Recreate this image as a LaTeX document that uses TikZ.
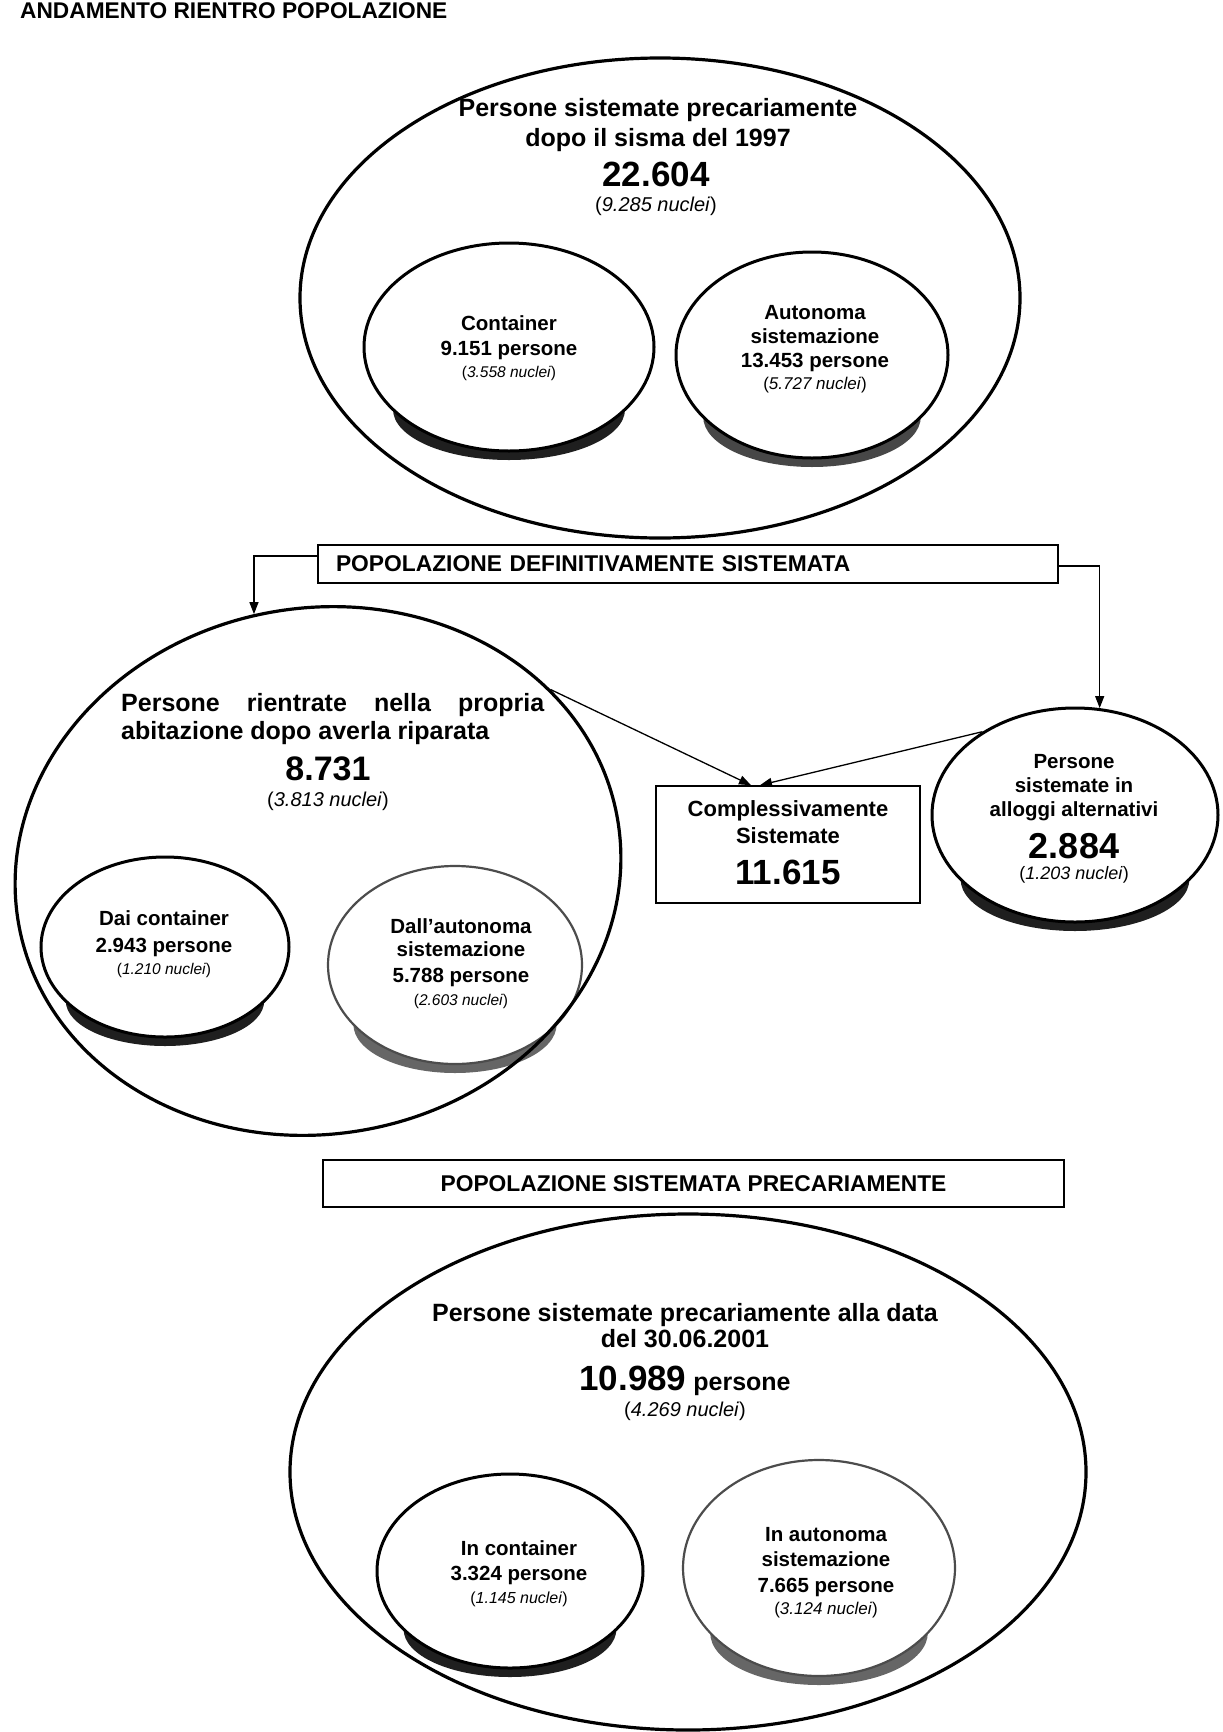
\documentclass[tikz,border=0pt]{standalone}
\usepackage{fontspec}
\setmainfont{Liberation Sans}
\usetikzlibrary{shapes.geometric,arrows.meta,calc}
\newcommand\fsz[1]{\fontsize{#1}{#1}\selectfont}
\newcommand\nuc[1]{\mdseries(\textit{#1 nuclei})}
% name, cx, cy, rx, ry, shadow colour, outline style
\newcommand\disc[7]{%
  \fill[#6] (#2,{#3+0.6*#5}) ellipse [x radius={0.8*#4pt}, y radius={0.4*#5pt+9pt}];
  \node[discell,#7, minimum width={2*#4pt}, minimum height={2*#5pt}] (#1) at (#2,#3) {};
}
\begin{document}
\begin{tikzpicture}[x=1pt,y=-1pt,
  bigell/.style={draw, ellipse, inner sep=0pt, line width=3.2pt},
  discell/.style={draw, fill=white, ellipse, inner sep=0pt, line width=3pt},
  softline/.style={draw=black!70, line width=2.2pt},
  lbl/.style={anchor=base, inner sep=0pt, font=\bfseries\fsz{25}},
  inlbl/.style={anchor=base, inner sep=0pt, font=\bfseries\fsz{20.5}},
  boxst/.style={draw, line width=1.6pt, inner sep=0pt, font=\bfseries\fsz{22.8}},
  conn/.style={line width=1.3pt, -{Triangle[length=12pt,width=9pt]}}
]
\useasboundingbox (0,0) rectangle (1223,1732);
\fill[white] (0,0) rectangle (1223,1732);

% title
\node[anchor=base west, inner sep=0pt, font=\bfseries\fsz{22.7}] (title) at (20,18) {ANDAMENTO RIENTRO POPOLAZIONE};

% ---------- top group ----------
\disc{E1a}{509}{347}{145}{104}{black!88}{}
\disc{E1b}{812}{355}{136}{103}{black!72}{}
\node[bigell, minimum width=720pt, minimum height=480pt] (E1) at (660,298) {};

\node[lbl] (t1a) at (658,116) {Persone sistemate precariamente};
\node[lbl] (t1b) at (658,146) {dopo il sisma del 1997};
\node[lbl, font=\bfseries\fsz{35}] (t1c) at (656,186) {22.604};
\node[lbl, font=\fsz{20}] (t1d) at (656,211) {\nuc{9.285}};

\node[inlbl] (t1e) at (509,330) {Container};
\node[inlbl] (t1f) at (509,355) {9.151 persone};
\node[inlbl, font=\fsz{15.5}] (t1g) at (509,377) {\nuc{3.558}};

\node[inlbl] (t1h) at (815,319) {Autonoma};
\node[inlbl] (t1i) at (815,343) {sistemazione};
\node[inlbl] (t1j) at (815,367) {13.453 persone};
\node[inlbl, font=\fsz{17}] (t1k) at (815,389) {\nuc{5.727}};

% ---------- box 1 ----------
\node[boxst, minimum width=740pt, minimum height=38pt, text width=704pt, align=left, inner xsep=18pt] (B1) at (688,564) {POPOLAZIONE DEFINITIVAMENTE SISTEMATA};

% ---------- middle group ----------
\disc{E2a}{165}{947}{124}{90}{black!88}{}
\disc{E2b}{455}{965}{127}{99}{black!60}{softline}
\node[bigell, rotate=10, minimum width=608pt, minimum height=526pt] (E2) at (318,871) {};

\node[lbl, anchor=base west] (t2a) at (121,711) {\makebox[423pt][s]{Persone rientrate nella propria}};
\node[lbl, anchor=base west] (t2b) at (121,739) {abitazione dopo averla riparata};
\node[lbl, font=\bfseries\fsz{34}] (t2c) at (328,780) {8.731};
\node[lbl, font=\fsz{20}] (t2d) at (328,806) {\nuc{3.813}};

\node[inlbl] (t2e) at (164,925) {Dai container};
\node[inlbl] (t2f) at (164,952) {2.943 persone};
\node[inlbl, font=\fsz{15.5}] (t2g) at (164,974) {\nuc{1.210}};

\node[inlbl] (t2h) at (461,933) {Dall’autonoma};
\node[inlbl] (t2i) at (461,956) {sistemazione};
\node[inlbl] (t2j) at (461,982) {5.788 persone};
\node[inlbl, font=\fsz{15.5}] (t2k) at (461,1005) {\nuc{2.603}};

\node[boxst, minimum width=264pt, minimum height=117pt] (C) at (788,844.5) {};
\node[lbl, font=\bfseries\fsz{22}] (tc1) at (788,816) {Complessivamente};
\node[lbl, font=\bfseries\fsz{22}] (tc2) at (788,843) {Sistemate};
\node[lbl, font=\bfseries\fsz{35}] (tc3) at (788,884) {11.615};

\disc{E3}{1075}{815}{143}{107}{black!88}{}
\node[inlbl] (t3a) at (1074,768) {Persone};
\node[inlbl] (t3b) at (1074,792) {sistemate in};
\node[inlbl] (t3c) at (1074,816) {alloggi alternativi};
\node[inlbl, font=\bfseries\fsz{36}] (t3d) at (1074,858) {2.884};
\node[inlbl, font=\fsz{18}] (t3e) at (1074,879) {\nuc{1.203}};

% connectors
\draw[conn] ([yshift=8pt]B1.west) -| (E2.94);
\draw[conn] ([yshift=-2pt]B1.east) -| (E3.77);
\draw[conn] (E2.28) -- ([xshift=-37pt]C.north);
\draw[conn] (E3.138) -- ([xshift=-28pt]C.north);

% ---------- box 2 ----------
\node[boxst, minimum width=741pt, minimum height=47pt] (B2) at (693.5,1183.5) {POPOLAZIONE SISTEMATA PRECARIAMENTE};

% ---------- bottom group ----------
\disc{E4a}{510}{1571}{133}{97}{black!88}{}
\disc{E4b}{819}{1568}{136}{108}{black!60}{softline}
\node[bigell, minimum width=796pt, minimum height=516pt] (E4) at (688,1472) {};

\node[lbl] (t4a) at (685,1321) {Persone sistemate precariamente alla data};
\node[lbl] (t4b) at (685,1347) {del 30.06.2001};
\node[lbl] (t4c) at (685,1390) {{\fsz{35}10.989} persone};
\node[lbl, font=\fsz{20}] (t4d) at (685,1416) {\nuc{4.269}};

\node[inlbl] (t4e) at (519,1555) {In container};
\node[inlbl] (t4f) at (519,1580) {3.324 persone};
\node[inlbl, font=\fsz{16}] (t4g) at (519,1603) {\nuc{1.145}};

\node[inlbl] (t4h) at (826,1541) {In autonoma};
\node[inlbl] (t4i) at (826,1566) {sistemazione};
\node[inlbl] (t4j) at (826,1592) {7.665 persone};
\node[inlbl, font=\fsz{17}] (t4k) at (826,1614) {\nuc{3.124}};
\end{tikzpicture}
\end{document}
